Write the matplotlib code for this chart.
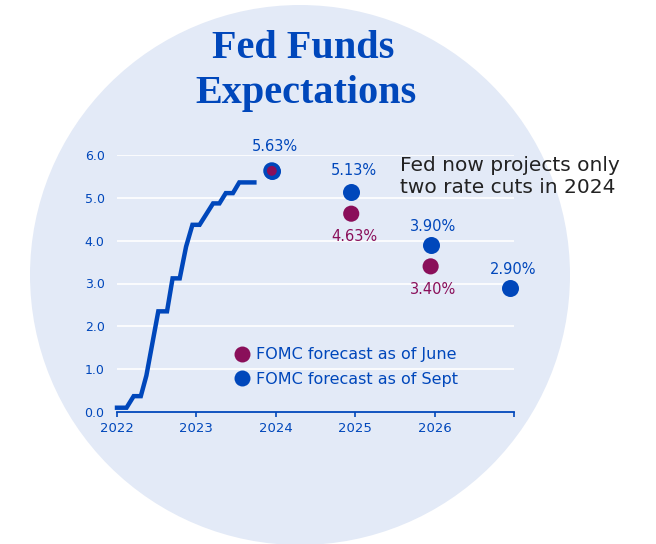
import matplotlib
matplotlib.use("Agg")
import matplotlib.pyplot as plt
from matplotlib.patches import Circle
from matplotlib.lines import Line2D
from matplotlib.transforms import IdentityTransform

# effective fed funds path (decimal year, %)
hist_x = [2022.0, 2022.12, 2022.21, 2022.30, 2022.37, 2022.52, 2022.63, 2022.70,
          2022.79, 2022.87, 2022.95, 2023.04, 2023.21, 2023.29, 2023.37, 2023.46,
          2023.54, 2023.73]
hist_y = [0.1, 0.1, 0.37, 0.37, 0.85, 2.35, 2.35, 3.12,
          3.12, 3.86, 4.37, 4.37, 4.87, 4.87, 5.11, 5.11,
          5.36, 5.36]

# FOMC median projections (end of year)
june_x = [2023.95, 2024.95, 2025.95]
june_y = [5.63, 4.63, 3.40]
sept_x = [2023.95, 2024.95, 2025.95, 2026.95]
sept_y = [5.63, 5.13, 3.90, 2.90]

years = [2022, 2023, 2024, 2025, 2026, 2027]
year_labels = ["2022", "2023", "2024", "2025", "2026", ""]
y_ticks = [0, 1, 2, 3, 4, 5, 6]

BLUE = "#0047BB"
PURPLE = "#8A0F5A"
BG = "#E3EAF7"
FONT = "DejaVu Sans"

fig = plt.figure(figsize=(6.56, 5.44), dpi=100)
fig.patch.set_facecolor("white")

# big circle behind everything (pixel coords, origin bottom-left)
fig.add_artist(Circle((300, 544 - 275), 270, transform=IdentityTransform(),
                      facecolor=BG, edgecolor="none", zorder=0))

ax = fig.add_axes([117 / 656, (544 - 412) / 544, 397 / 656, 257 / 544])
ax.set_facecolor("none")
ax.set_xlim(2022, 2027)
ax.set_ylim(0, 6)

for s in ["top", "right", "left"]:
    ax.spines[s].set_visible(False)
ax.spines["bottom"].set_color(BLUE)
ax.spines["bottom"].set_linewidth(1.3)

ax.set_yticks(y_ticks)
ax.set_yticklabels([f"{v:.1f}" for v in y_ticks])
ax.set_xticks(years)
ax.set_xticklabels(year_labels)
ax.tick_params(axis="y", length=0, pad=9, labelsize=9, labelcolor=BLUE)
ax.tick_params(axis="x", length=3.5, width=1.2, color=BLUE, pad=4,
               labelsize=9.5, labelcolor=BLUE)
for lab in ax.get_xticklabels() + ax.get_yticklabels():
    lab.set_fontfamily(FONT)

ax.yaxis.grid(True, color="white", linewidth=1.2)
ax.set_axisbelow(True)

ax.plot(hist_x, hist_y, color=BLUE, linewidth=3.2, solid_joinstyle="miter",
        clip_on=False, zorder=3)

ax.scatter(sept_x, sept_y, s=150, color=BLUE, zorder=4, clip_on=False,
           linewidths=0)
ax.scatter(june_x, june_y, s=[95, 135, 135], color=PURPLE,
           edgecolors=[BLUE, PURPLE, PURPLE], linewidths=[2.6, 0, 0],
           zorder=5, clip_on=False)

# value labels
up_off = [12, 10, 8, 8]
for x, y, o in zip(sept_x, sept_y, up_off):
    ax.annotate(f"{y:.2f}%", (x, y), xytext=(2, o), textcoords="offset points",
                ha="center", va="bottom", color=BLUE, fontsize=10.5,
                fontfamily=FONT)
for x, y in zip(june_x[1:], june_y[1:]):
    ax.annotate(f"{y:.2f}%", (x, y), xytext=(2, -11), textcoords="offset points",
                ha="center", va="top", color=PURPLE, fontsize=10.5,
                fontfamily=FONT)

handles = [Line2D([], [], linestyle="none", marker="o", markersize=11.5,
                  markerfacecolor=PURPLE, markeredgewidth=0),
           Line2D([], [], linestyle="none", marker="o", markersize=11.5,
                  markerfacecolor=BLUE, markeredgewidth=0)]
ax.legend(handles, ["FOMC forecast as of June", "FOMC forecast as of Sept"],
          loc="center left", bbox_to_anchor=(221 / 656, (544 - 367) / 544),
          bbox_transform=fig.transFigure, frameon=False, handlelength=0.8,
          handletextpad=0.5, labelspacing=0.6,
          prop={"family": FONT, "size": 11.5}, labelcolor=BLUE)

fig.text(0.462, 1 - 58 / 544, "Fed Funds", ha="center", va="baseline",
         fontsize=29, fontfamily="Liberation Serif", fontweight="bold",
         color=BLUE)
fig.text(0.466, 1 - 103 / 544, "Expectations", ha="center", va="baseline",
         fontsize=29, fontfamily="Liberation Serif", fontweight="bold",
         color=BLUE)

# va="baseline" on multi-line text anchors the last line
fig.text(400 / 656, 1 - 193 / 544, "Fed now projects only\ntwo rate cuts in 2024",
         ha="left", va="baseline", fontsize=14.5, fontfamily=FONT,
         color="#222222", linespacing=1.2)

fig.savefig("out.png", dpi=100, facecolor="white")
